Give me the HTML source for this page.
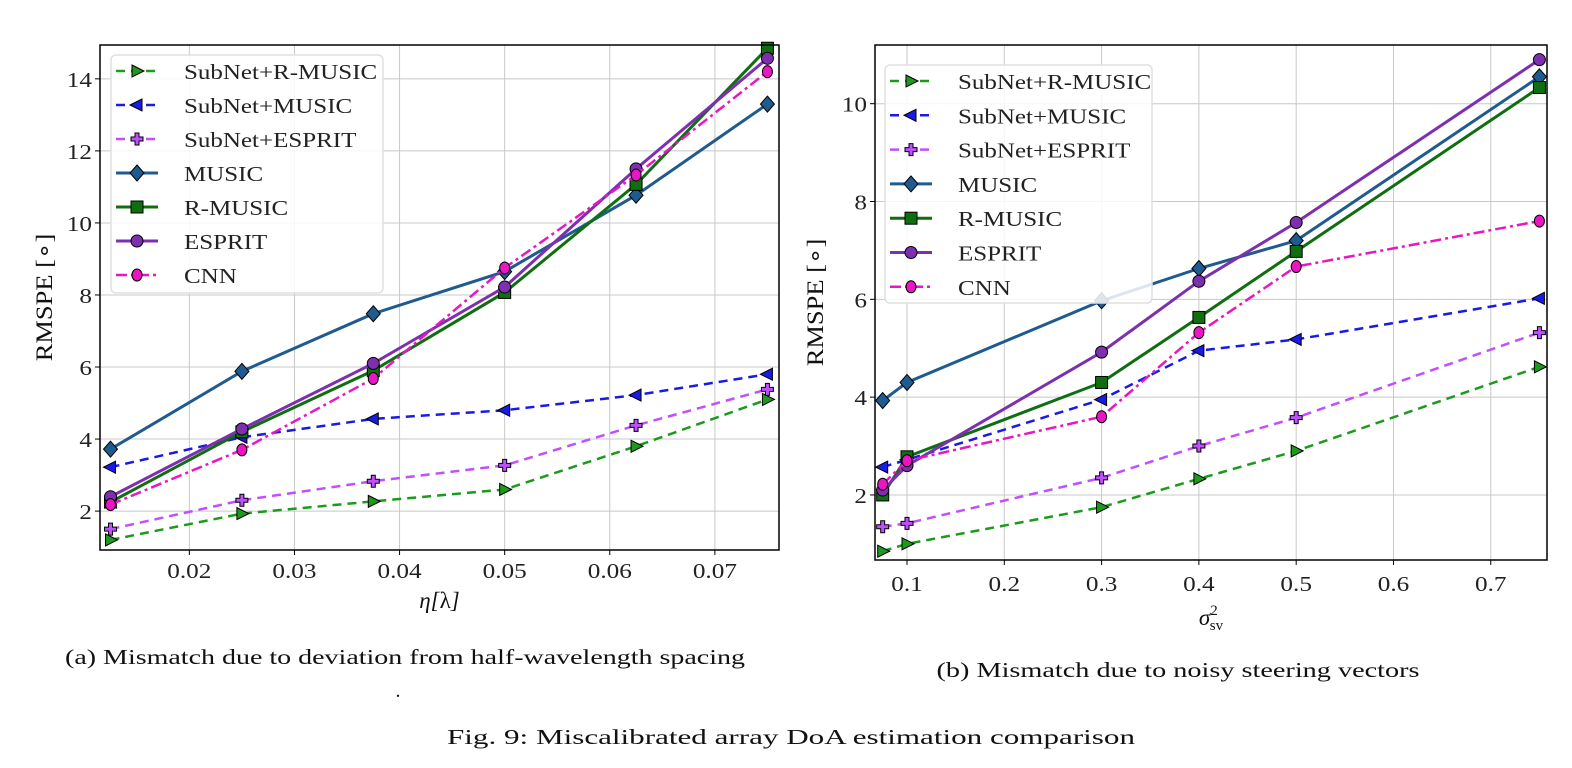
<!DOCTYPE html>
<html><head><meta charset="utf-8"><style>
body{margin:0;background:#fff;}
svg{display:block;font-family:"Liberation Serif",serif;}
</style></head><body>
<svg id="fig" width="1572" height="768" viewBox="0 0 1572 768">
<g id="chartA"></g>
<g id="chartB"></g>
<text x="405" y="664" font-size="21" text-anchor="middle" fill="#111" textLength="680" lengthAdjust="spacingAndGlyphs">(a) Mismatch due to deviation from half-wavelength spacing</text>
<text x="398" y="697" font-size="20" text-anchor="middle" fill="#111">.</text>
<text x="1178" y="677" font-size="21" text-anchor="middle" fill="#111" textLength="483" lengthAdjust="spacingAndGlyphs">(b) Mismatch due to noisy steering vectors</text>
<text x="791" y="744" font-size="21" text-anchor="middle" fill="#111" textLength="688" lengthAdjust="spacingAndGlyphs">Fig. 9: Miscalibrated array DoA estimation comparison</text>
</svg>
<script>
const seriesNames = ["SubNet+R-MUSIC","SubNet+MUSIC","SubNet+ESPRIT","MUSIC","R-MUSIC","ESPRIT","CNN"];
const xA = [0.0125,0.025,0.0375,0.05,0.0625,0.075];
const aSubRMusic = [1.2,1.93,2.27,2.6,3.8,5.1];
const aSubMusic = [3.22,4.05,4.56,4.8,5.22,5.8];
const aSubEsprit = [1.5,2.3,2.83,3.27,4.38,5.38];
const aMusic = [3.72,5.88,7.48,8.65,10.77,13.3];
const aRMusic = [2.25,4.2,5.9,8.07,11.07,14.85];
const aEsprit = [2.4,4.28,6.1,8.22,11.5,14.57];
const aCnn = [2.18,3.7,5.68,8.75,11.33,14.2];
const xTicksA = [0.02,0.03,0.04,0.05,0.06,0.07];
const xTickLabelsA = ["0.02","0.03","0.04","0.05","0.06","0.07"];
const yTicksA = [2,4,6,8,10,12,14];

const xB = [0.075,0.1,0.3,0.4,0.5,0.75];
const bSubRMusic = [0.85,1.0,1.75,2.33,2.9,4.62];
const bSubMusic = [2.57,2.72,3.95,4.95,5.18,6.02];
const bSubEsprit = [1.35,1.42,2.35,3.0,3.58,5.32];
const bMusic = [3.93,4.3,5.97,6.63,7.2,10.55];
const bRMusic = [2.0,2.78,4.3,5.63,6.98,10.33];
const bEsprit = [2.1,2.6,4.92,6.37,7.57,10.9];
const bCnn = [2.22,2.7,3.6,5.32,6.67,7.6];
const xTicksB = [0.1,0.2,0.3,0.4,0.5,0.6,0.7];
const xTickLabelsB = ["0.1","0.2","0.3","0.4","0.5","0.6","0.7"];
const yTicksB = [2,4,6,8,10];

const styles = [
 {c:"#1c9a1c",d:"9,6",m:"tri-r",w:2.5},
 {c:"#1a1ae6",d:"9,6",m:"tri-l",w:2.5},
 {c:"#c050ff",d:"9,6",m:"plus",w:2.5},
 {c:"#1f5b8f",d:"",m:"diamond",w:3},
 {c:"#0f6e10",d:"",m:"square",w:3},
 {c:"#7d2fb0",d:"",m:"circle",w:3},
 {c:"#ea16c4",d:"11,4,3,4",m:"hex",w:2.5}
];
const NS="http://www.w3.org/2000/svg";
function mk(p,tag,at){const e=document.createElementNS(NS,tag);for(const k in at)e.setAttribute(k,at[k]);p.appendChild(e);return e;}
function stretch(t,r){const L=t.getComputedTextLength();if(L>0){t.setAttribute("textLength",(L*r).toFixed(1));t.setAttribute("lengthAdjust","spacingAndGlyphs");}}
function marker(g,m,x,y,c){
 let e;
 if(m==="tri-r") e=mk(g,"polygon",{points:`${x-5},${y-6} ${x+7},${y} ${x-5},${y+6}`});
 else if(m==="tri-l") e=mk(g,"polygon",{points:`${x+5},${y-6} ${x-7},${y} ${x+5},${y+6}`});
 else if(m==="plus") e=mk(g,"path",{d:`M${x-2},${y-6}h4v4h4v4h-4v4h-4v-4h-4v-4h4z`});
 else if(m==="diamond") e=mk(g,"polygon",{points:`${x},${y-8} ${x+7},${y} ${x},${y+8} ${x-7},${y}`});
 else if(m==="square") e=mk(g,"rect",{x:x-6,y:y-6,width:12,height:12});
 else if(m==="circle") e=mk(g,"circle",{cx:x,cy:y,r:6});
 else e=mk(g,"ellipse",{cx:x,cy:y,rx:5,ry:6});
 e.setAttribute("fill",c);e.setAttribute("stroke","#000");e.setAttribute("stroke-width","1");
 
 
 return e;
}
function draw(gid,cfg){
 const g=document.getElementById(gid);
 const X=v=>cfg.x0+(v-cfg.xmin)/(cfg.xmax-cfg.xmin)*(cfg.x1-cfg.x0);
 const Y=v=>cfg.y1-(v-cfg.ymin)/(cfg.ymax-cfg.ymin)*(cfg.y1-cfg.y0);
 const grid=mk(g,"g",{});
 
 
 cfg.xt.forEach((t,i)=>{
  mk(grid,"line",{x1:X(t),x2:X(t),y1:cfg.y0,y2:cfg.y1,stroke:"#c8c8c8","stroke-width":1});
  mk(g,"line",{x1:X(t),x2:X(t),y1:cfg.y1,y2:cfg.y1+5,stroke:"#000"});
  const tx=mk(g,"text",{x:X(t),y:cfg.y1+cfg.xty,"font-size":21,"text-anchor":"middle",fill:"#222"});
  tx.textContent=cfg.xl[i];
  
  
  stretch(tx,1.2);
 });
 cfg.yt.forEach(t=>{
  mk(grid,"line",{x1:cfg.x0,x2:cfg.x1,y1:Y(t),y2:Y(t),stroke:"#c8c8c8","stroke-width":1});
  mk(g,"line",{x1:cfg.x0-5,x2:cfg.x0,y1:Y(t),y2:Y(t),stroke:"#000"});
  const tx=mk(g,"text",{x:cfg.x0-8,y:Y(t)+8,"font-size":21,"text-anchor":"end",fill:"#222"});
  tx.textContent=String(t);
  
  
  stretch(tx,1.2);
 });
 cfg.data.forEach((arr,i)=>{
  const s=styles[i];
  const sg=mk(g,"g",{});
  
  
  const pts=arr.map((v,j)=>X(cfg.xs[j])+","+Y(v)).join(" ");
  const pl=mk(sg,"polyline",{points:pts,fill:"none",stroke:s.c,"stroke-width":s.w});
  if(s.d)pl.setAttribute("stroke-dasharray",s.d);
  
  
  arr.forEach((v,j)=>marker(sg,s.m,X(cfg.xs[j]),Y(v),s.c));
 });
 const fr=mk(g,"rect",{x:cfg.x0,y:cfg.y0,width:cfg.x1-cfg.x0,height:cfg.y1-cfg.y0,fill:"none",stroke:"#000","stroke-width":1.5});
 
 
 const lg=mk(g,"g",{});
 
 
 mk(lg,"rect",{x:cfg.lx,y:cfg.ly,width:cfg.lw,height:cfg.lh,rx:5,fill:"#fff","fill-opacity":0.85,stroke:"#e0e0e0","stroke-width":1.5});
 seriesNames.forEach((n,i)=>{
  const s=styles[i];const yy=cfg.ly+16+i*cfg.ls;const e=mk(lg,"g",{});
  
  
  const l=mk(e,"line",{x1:cfg.lx+5,x2:cfg.lx+47,y1:yy,y2:yy,stroke:s.c,"stroke-width":s.w});
  if(s.d)l.setAttribute("stroke-dasharray",s.d);
  marker(e,s.m,cfg.lx+26,yy,s.c);
  const t=mk(e,"text",{x:cfg.lx+73,y:yy+8,"font-size":21,fill:"#222"});
  t.textContent=n;
  stretch(t,1.19);
 });
 const xl=mk(g,"text",{x:(cfg.x0+cfg.x1)/2,y:cfg.xly,"font-size":23,"text-anchor":"middle","font-style":"italic",fill:"#111"});
 xl.innerHTML=cfg.xlabel;
 
 
 const yl=mk(g,"text",{x:0,y:0,"font-size":23,"text-anchor":"middle",fill:"#111",transform:`translate(${cfg.ylx},${(cfg.y0+cfg.y1)/2}) rotate(-90)`});
 yl.textContent="RMSPE [∘]";
 
 
 stretch(yl,1.15);
}
draw("chartA",{x0:100,x1:779,y0:45,y1:550,xmin:0.0115,xmax:0.0761,ymin:0.92,ymax:14.94,
 xs:xA,data:[aSubRMusic,aSubMusic,aSubEsprit,aMusic,aRMusic,aEsprit,aCnn],xt:xTicksA,xl:xTickLabelsA,yt:yTicksA,xty:28,
 lx:111,ly:55,lw:272,lh:238,ls:34,xly:608,ylx:52,xlabel:'η[<tspan font-style="normal">λ</tspan>]'});
draw("chartB",{x0:875,x1:1547,y0:45,y1:560,xmin:0.0671,xmax:0.7578,ymin:0.67,ymax:11.2,
 xs:xB,data:[bSubRMusic,bSubMusic,bSubEsprit,bMusic,bRMusic,bEsprit,bCnn],xt:xTicksB,xl:xTickLabelsB,yt:yTicksB,xty:31,
 lx:885,ly:65,lw:267,lh:238,ls:34.3,xly:625,ylx:823,xlabel:'σ<tspan font-size="15" dy="-10" font-style="normal">2</tspan><tspan font-size="15" dy="15" dx="-8" font-style="normal">sv</tspan>'});
</script>
</body></html>
